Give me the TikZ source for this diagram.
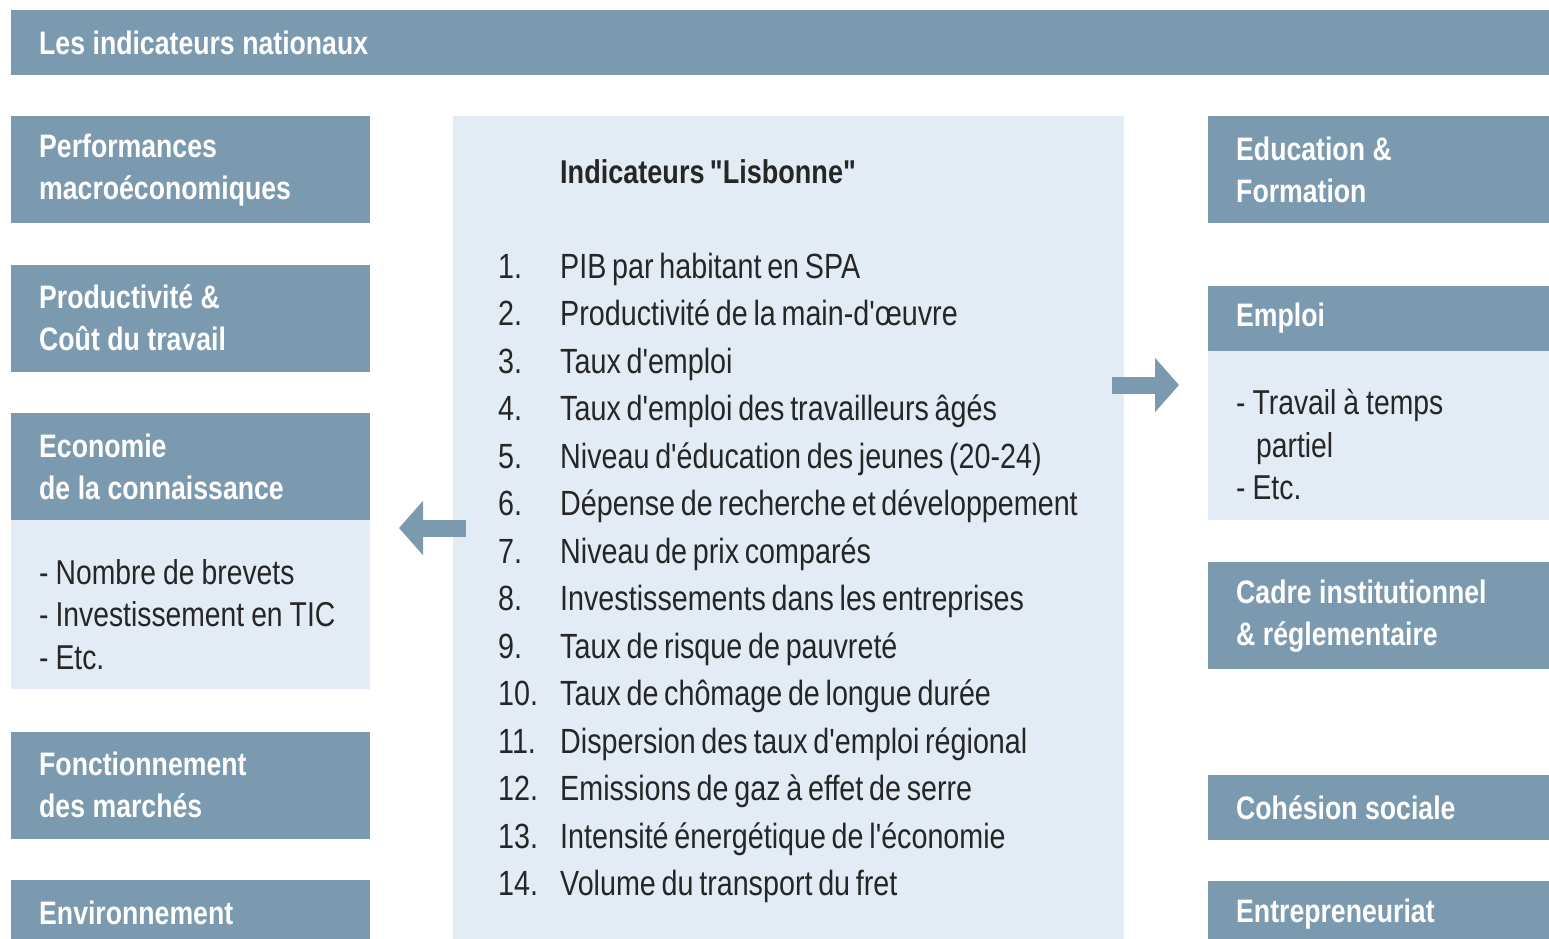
\documentclass[tikz,border=0pt]{standalone}
\usepackage{fontspec}
\usetikzlibrary{arrows.meta,positioning,calc}
\newfontfamily\cnfont{Liberation Sans}[FakeStretch=0.82, WordSpace=0.72]
\definecolor{bar}{RGB}{123,154,175}
\definecolor{pale}{RGB}{227,236,244}
\definecolor{ink}{RGB}{38,38,38}

\begin{document}
\begin{tikzpicture}[x=1pt, y=-1pt,
    node distance=41pt,
    hdr/.style={fill=bar, text=white, anchor=north west, align=left,
      font=\cnfont\bfseries\fontsize{32.5}{42}\selectfont,
      execute at begin node={\spaceskip=7.5pt plus 2pt\relax},
      text width=303pt, inner xsep=28pt, inner ysep=0pt, minimum height=107pt},
    hdrone/.style={hdr, minimum height=65pt},
    items/.style={hdr, fill=pale, text=ink, minimum height=169pt,
      font=\cnfont\fontsize{34.5}{42.5}\selectfont,
      execute at begin node={\spaceskip=7pt plus 2pt\relax\rule{0pt}{44pt}}},
    lst/.style={anchor=base west, text=ink, inner sep=0pt,
      font=\cnfont\fontsize{35}{42}\selectfont},
    bigarrow/.style={bar, line width=17pt, -{Triangle[length=24pt, width=53pt]}}
  ]
  \clip (0,0) rectangle (1549,938);

  \node[hdrone, text width=1500pt] (nat) at (11,10) {Les indicateurs nationaux};

  % left column
  \node[hdr] (perf) at (11,116) {Performances\\macroéconomiques};
  \node[hdr, below=of perf] (prod) {Productivité \&\\Coût du travail};
  \node[hdr, below=of prod] (eco) {Economie\\de la connaissance};
  \node[items, below=0pt of eco] (ecoitems) {- Nombre de brevets\\- Investissement en TIC\\- Etc.};
  \node[hdr, below=42pt of ecoitems] (fonct) {Fonctionnement\\des marchés};
  \node[hdrone, below=of fonct] (env) {Environnement};

  % right column
  \node[hdr] (edu) at (1208,116) {Education \&\\Formation};
  \node[hdrone, below=62pt of edu] (emploi) {Emploi};
  \node[items, below=0pt of emploi] (emploiitems) {- Travail à temps\\\hspace*{20pt}partiel\\- Etc.};
  \node[hdr, below=42pt of emploiitems] (cadre) {Cadre institutionnel\\\& réglementaire};
  \node[hdrone, below=105pt of cadre] (cohesion) {Cohésion sociale};
  \node[hdrone, below=of cohesion] (entre) {Entrepreneuriat};

  % Lisbonne panel
  \node[fill=pale, anchor=north west, minimum width=671pt, minimum height=900pt, inner sep=0pt] (lisbon) at (453,116) {};
  \node[lst, font=\cnfont\bfseries\fontsize{33}{40}\selectfont] (titre) at (560,183) {Indicateurs "Lisbonne"};
  \foreach \txt [count=\i] in {PIB par habitant en SPA, Productivité de la main-d'œuvre,
      Taux d'emploi, Taux d'emploi des travailleurs âgés,
      Niveau d'éducation des jeunes (20-24), Dépense de recherche et développement,
      Niveau de prix comparés, Investissements dans les entreprises,
      Taux de risque de pauvreté, Taux de chômage de longue durée,
      Dispersion des taux d'emploi régional, Emissions de gaz à effet de serre,
      Intensité énergétique de l'économie, Volume du transport du fret} {
    \node[lst] (num\i) at (498,230.5+47.5*\i) {\i.};
    \node[lst] (ind\i) at (560,230.5+47.5*\i) {\txt};
  }

  % arrows
  \coordinate (gauche) at (399,528);
  \coordinate (droite) at (1179,385);
  \draw[bigarrow] ($(lisbon.west |- gauche)+(13,0)$) -- (gauche);
  \draw[bigarrow] ($(lisbon.east |- droite)+(-12,0)$) -- (droite);
\end{tikzpicture}
\end{document}
